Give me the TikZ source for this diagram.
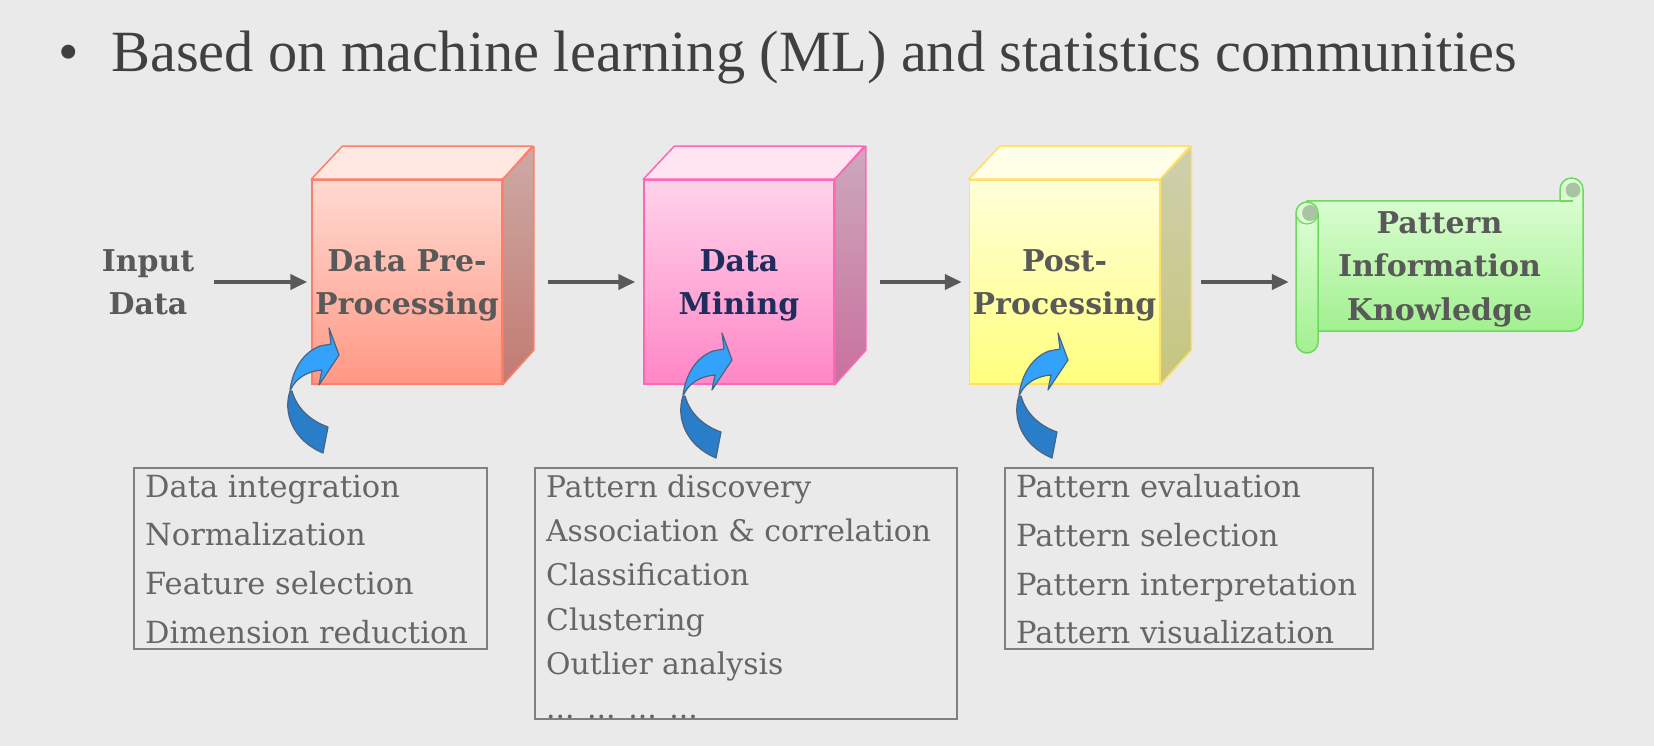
\documentclass[tikz,border=0pt]{standalone}
\usepackage{fontspec}
\setmainfont{DejaVu Serif}
\newfontfamily\titlefont{Liberation Serif}
\usetikzlibrary{arrows.meta}

\definecolor{bg}{HTML}{EAEAEA}
\definecolor{titlegray}{HTML}{404040}
\definecolor{labelgray}{HTML}{595959}
\definecolor{listgray}{HTML}{666666}
\definecolor{boxgray}{HTML}{808080}
\definecolor{arrowgray}{HTML}{595959}
\definecolor{navy}{HTML}{1F2D5C}
% cube colours
\definecolor{frontApre}{HTML}{FFDAD2}
\definecolor{frontBpre}{HTML}{FF9884}
\definecolor{toppre}{HTML}{FFE7E2}
\definecolor{sideApre}{HTML}{CDAAA5}
\definecolor{sideBpre}{HTML}{C27A71}
\definecolor{linepre}{HTML}{FF7E6A}
\definecolor{frontAmine}{HTML}{FFD3EA}
\definecolor{frontBmine}{HTML}{FF86C6}
\definecolor{topmine}{HTML}{FFE4F2}
\definecolor{sideAmine}{HTML}{CDA9BC}
\definecolor{sideBmine}{HTML}{C8709E}
\definecolor{linemine}{HTML}{FF66B6}
\definecolor{frontApost}{HTML}{FFFFDA}
\definecolor{frontBpost}{HTML}{FFFF7E}
\definecolor{toppost}{HTML}{FFFFE8}
\definecolor{sideApost}{HTML}{CFCFAD}
\definecolor{sideBpost}{HTML}{C6C67E}
\definecolor{linepost}{HTML}{FFDF66}
% scroll and curved arrows
\definecolor{scrollA}{HTML}{E2FFDA}
\definecolor{scrollB}{HTML}{A2F090}
\definecolor{scrollline}{HTML}{6CDA5A}
\definecolor{curl}{HTML}{A9C4A2}
\definecolor{lightblue}{HTML}{33A2FA}
\definecolor{darkblue}{HTML}{2A7DC8}
\definecolor{blueline}{HTML}{4A6482}

\begin{document}
\begin{tikzpicture}[x=1pt, y=-1pt,
    flow/.style={-{Triangle[length=17pt,width=15pt]}, line width=4pt, draw=arrowgray},
    stage/.style={align=center, font=\bfseries\fontsize{30}{43}\selectfont, text=labelgray},
    lowered/.style={text depth=-2pt},
    cube/.style={stage, lowered, minimum width=190pt, minimum height=204pt, inner sep=0pt, line width=1.5pt},
    listbox/.style={draw=boxgray, line width=1.5pt, anchor=north west, inner sep=0pt},
    listtext/.style={anchor=north west, align=left, inner xsep=12pt, inner ysep=7.5pt,
        font=\fontsize{30.5}{48.7}\selectfont, text=listgray}]
    \fill[bg] (0,0) rectangle (1654,746);

    % heading
    \node[anchor=base, inner sep=0pt, font=\titlefont\fontsize{58.4}{60}\selectfont, text=titlegray] (dot) at (69,72) {•};
    \node[anchor=base west, inner sep=0pt, font=\titlefont\fontsize{58.4}{60}\selectfont, text=titlegray] (title) at (111,72) {Based on machine learning (ML) and statistics communities};

    % input
    \node[stage] (input) at (148,282) {Input\\Data};

    % cubes
    \node[cube, top color=frontApre, bottom color=frontBpre, draw=linepre] (pre) at (407,282) {Data Pre-\\Processing};
    \node[cube, top color=frontAmine, bottom color=frontBmine, draw=linemine, text=navy] (mine) at (739,282) {Data\\Mining};
    \node[cube, top color=frontApost, bottom color=frontBpost, draw=linepost] (post) at (1064.5,282) {Post-\\Processing};
    \foreach \n in {pre,mine,post}{
        \fill[fill=top\n, draw=line\n, line width=1.5pt, line join=round] (\n.north west) -- ++(31,-33) -- ++(190,0) -- (\n.north east) -- cycle;
        \shade[top color=sideA\n, bottom color=sideB\n, draw=line\n, line width=1.5pt, line join=round] (\n.north east) -- ++(31,-33) -- ++(0,204) -- (\n.south east) -- cycle;
    }

    % scroll
    \shade[top color=scrollA, bottom color=scrollB, draw=scrollline, line width=1.5pt] (1307,201) -- (1560,201) -- (1560,189.5) arc[start angle=180, end angle=360, radius=11.5] -- (1583,320) arc[start angle=0, end angle=90, radius=11] -- (1307,331) -- cycle;
    \fill[curl] (1573,190) circle (7.5);
    \draw[scrollline, line width=1.2pt] (1560,201) -- (1573,201);
    \shade[top color=scrollA, bottom color=scrollB, draw=scrollline, line width=1.5pt, rounded corners=11pt] (1296,202) rectangle (1318,353);
    \fill[curl] (1310,213) circle (8);
    \draw[scrollline, line width=1.2pt] (1296,213) arc[start angle=180, end angle=0, radius=11];
    \node[stage, lowered, minimum width=287pt, minimum height=130pt, font=\bfseries\fontsize{30}{43.5}\selectfont] (know) at (1439.5,266) {Pattern\\Information\\Knowledge};

    % flow
    \draw[flow, shorten <=16pt, shorten >=4pt] (input) -- (pre);
    \draw[flow, shorten <=45pt, shorten >=8pt] (pre) -- (mine);
    \draw[flow, shorten <=45pt, shorten >=7pt] (mine) -- (post);
    \draw[flow, shorten <=41pt, shorten >=7pt] (post) -- (post -| know.west);

    % curved arrows
    \foreach \dx/\dy in {0/0, 393/5, 729/5}{
        \begin{scope}[shift={(\dx,\dy)}]
            \fill[darkblue, draw=blueline, line width=1.2pt, line join=round] (290,391) .. controls (283,412) and (292,440) .. (323,453) -- (328,427) .. controls (311,421) and (297,409) .. (292,391) -- cycle;
            \fill[lightblue, draw=blueline, line width=1.2pt, line join=round] (290,390) .. controls (293,368) and (304,352) .. (320,346) -- (331,344) -- (329,328) -- (339,355) -- (319,385) -- (322,370) .. controls (308,371) and (296,378) .. (291,389) -- cycle;
        \end{scope}
    }

    % lists
    \node[listbox, minimum width=353pt, minimum height=181pt] (prebox) at (133,467) {};
    \node[listtext] (prelist) at (prebox.north west) {Data integration\\Normalization\\Feature selection\\Dimension reduction};
    \node[listbox, minimum width=422pt, minimum height=251pt] (minebox) at (534,467) {};
    \begin{scope}
        \clip (minebox.north west) rectangle (minebox.south east);
        \node[listtext, font=\fontsize{29.8}{44.3}\selectfont] (minelist) at (minebox.north west) {Pattern discovery\\Association \& correlation\\Classification\\Clustering\\Outlier analysis\\... ... ... ...};
    \end{scope}
    \node[listbox, minimum width=368pt, minimum height=181pt] (postbox) at (1004,467) {};
    \node[listtext] (postlist) at (postbox.north west) {Pattern evaluation\\Pattern selection\\Pattern interpretation\\Pattern visualization};
\end{tikzpicture}
\end{document}
